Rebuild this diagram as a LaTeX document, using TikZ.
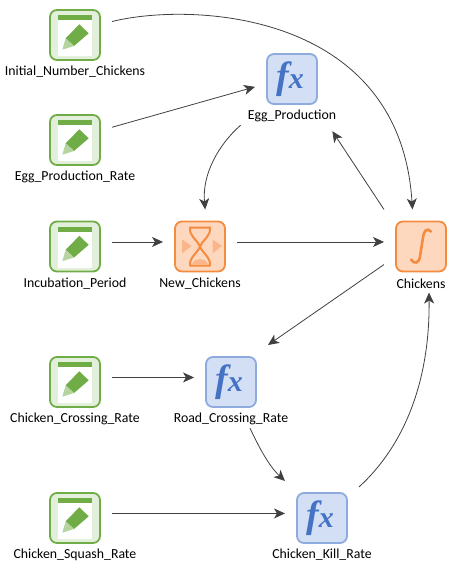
\documentclass[tikz,border=0pt]{standalone}
\usepackage{fontspec}
\setmainfont{Carlito}
\newfontfamily\fxfont{Liberation Serif}
\usetikzlibrary{arrows.meta}
\definecolor{gline}{HTML}{70AD47}
\definecolor{gpale}{HTML}{E2EFDA}
\definecolor{glight}{HTML}{B5D4A0}
\definecolor{bline}{HTML}{8FAADC}
\definecolor{bpale}{HTML}{D3DFF4}
\definecolor{btext}{HTML}{4472C4}
\definecolor{oline}{HTML}{F58B3F}
\definecolor{opale}{HTML}{FDD8BE}
\definecolor{olight}{HTML}{FBB58A}
\definecolor{conn}{HTML}{404040}
\tikzset{
  x=1pt,y=1pt,
  iconbox/.style={minimum size=50pt,inner sep=0pt,outer sep=12pt,line width=1.6pt,rounded corners=7pt},
  dataicon/.style={iconbox},
  fxicon/.style={iconbox},
  ordericon/.style={iconbox},
  lab/.style={font=\fontsize{13.8}{15}\selectfont,text=black,inner sep=0pt},
  link/.style={draw=conn,line width=0.8pt,-{Stealth[length=11pt,width=10pt,inset=3pt]}}
}
\newcommand\icoframe[3]{\fill[#3,draw=#2,line width=1.8pt,rounded corners=7pt] ([shift={(-25,-25)}]#1) rectangle ([shift={(25,25)}]#1);}
\newcommand\dataic[4]{%
  \node[dataicon] (#1) at (#2,-#3) {};
  \icoframe{#1}{gline}{gpale}
  \begin{scope}[shift={(#2,-#3)}]
    \fill[white] (-16.7,20) rectangle (16.7,-21);
    \fill[gline] (-16.7,20) rectangle (16.7,15);
    \fill[gline] (4.3,10.7) -- (13.7,1.7) -- (-1,-11) -- (-9.3,-3.3) -- cycle;
    \fill[glight] (-9.3,-3.3) -- (-1,-11) -- (-12.7,-14.7) -- cycle;
  \end{scope}
  \node[lab] (#1l) at (#2,-#3-37) {#4};
}
\newcommand\fxic[4]{%
  \node[fxicon] (#1) at (#2,-#3) {};
  \icoframe{#1}{bline}{bpale}
  \node[inner sep=0pt,text=btext,font=\fxfont\itshape\bfseries\fontsize{38}{38}\selectfont] at (#2-2,-#3) {f\fontsize{30}{30}\selectfont x};
  \node[lab] (#1l) at (#2,-#3-37) {#4};
}
\begin{document}
\begin{tikzpicture}
\useasboundingbox (0,0) rectangle (457,-571);
\dataic{init}{75}{35}{Initial\_Number\_Chickens}
\dataic{rate}{75}{140}{Egg\_Production\_Rate}
\dataic{inc}{75}{246.5}{Incubation\_Period}
\dataic{cross}{75}{382}{Chicken\_Crossing\_Rate}
\dataic{squash}{75}{518}{Chicken\_Squash\_Rate}
\fxic{egg}{292}{79}{Egg\_Production}
\fxic{road}{231}{382}{Road\_Crossing\_Rate}
\fxic{kill}{322}{518}{Chicken\_Kill\_Rate}
% New_Chickens
\node[ordericon] (new) at (200,-246.5) {};
\icoframe{new}{oline}{opale}
\begin{scope}[shift={(200,-246.5)}]
  \fill[olight] (-18,7) -- (-8.5,0.5) -- (-18,-7) -- cycle;
  \fill[olight] (12.5,7) -- (22,0.5) -- (12.5,-7) -- cycle;
  \fill[olight] (-8,-17.5) .. controls (-5,-11) and (5,-11) .. (8,-17.5) -- cycle;
  \draw[oline,line width=2pt,line join=round] (-10,19) -- (10,19) .. controls (11,10) and (2,6) .. (0,0) .. controls (-2,-6) and (-11,-11) .. (-10,-19) -- (10,-19) .. controls (11,-11) and (2,-6) .. (0,0) .. controls (-2,6) and (-11,10) .. (-10,19) -- cycle;
\end{scope}
\node[lab] (newl) at (200,-283.5) {New\_Chickens};
% Chickens
\node[ordericon] (chk) at (421,-246.5) {};
\icoframe{chk}{oline}{opale}
\begin{scope}[shift={(421,-246.5)}]
  \draw[oline,line width=2.6pt,line cap=round] (10,15) .. controls (6,19) and (3,16) .. (2,9) -- (-1,-10) .. controls (-2,-17) and (-7,-18) .. (-10,-13);
\end{scope}
\node[lab] (chkl) at (421,-283.5) {Chickens};
% connectors
\draw[link] (init.20) .. controls (190,-2) and (400,-10) .. (chk.103);
\draw[link] (rate.19) -- (egg.192);
\draw[link] (chk.135) -- ([xshift=-4pt,yshift=-9pt]eggl.south east);
\draw[link] ([xshift=-7pt,yshift=-3pt]eggl.south west) .. controls (218,-145) and (202,-175) .. (new.82);
\draw[link] (inc.7) -- (new.173);
\draw[link] (new.7) -- (chk.173);
\draw[link] (chk.206) -- (road.45);
\draw[link] (cross.7) -- (road.173);
\draw[link] ([xshift=19pt,yshift=-3pt]roadl.south) .. controls (258,-445) and (268,-465) .. (kill.135);
\draw[link] (squash.7) -- (kill.173);
\draw[link] (kill.40) .. controls (405,-445) and (430,-380) .. ([xshift=8pt,yshift=-4pt]chkl.south);
\end{tikzpicture}
\end{document}
